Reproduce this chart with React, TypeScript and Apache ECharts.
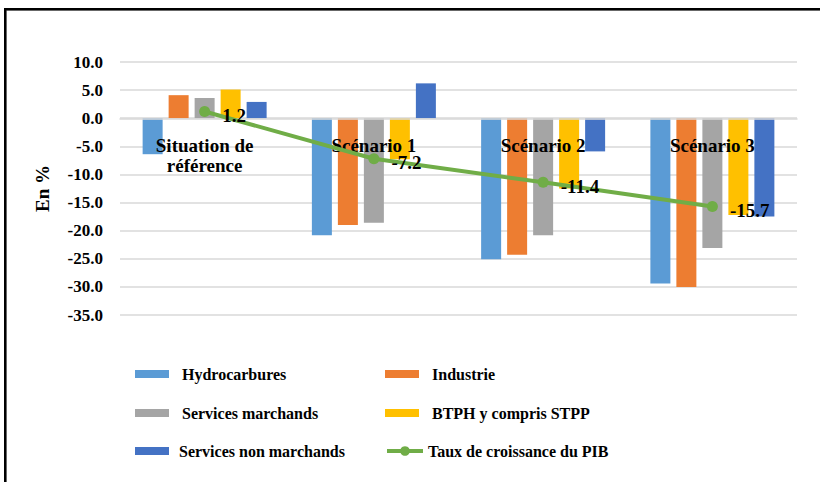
import React, { useEffect, useRef } from "react";
import * as echarts from "echarts";

const categories = ["Situation de\nréférence", "Scénario 1", "Scénario 2", "Scénario 3"];
const hydrocarbures = [-6.4, -20.8, -25.1, -29.4];
const industrie = [4.1, -19.0, -24.3, -30.0];
const servicesMarchands = [3.6, -18.6, -20.8, -23.1];
const btph = [5.1, -7.3, -12.5, -17.2];
const servicesNonMarchands = [2.9, 6.2, -5.9, -17.5];
const tauxPIB = [1.2, -7.2, -11.4, -15.7];

const FONT = "'Times New Roman', 'Liberation Serif', serif";

export default function App() {
  const ref = useRef<HTMLDivElement>(null);
  useEffect(() => {
    if (!ref.current) return;
    const chart = echarts.init(ref.current, null, { renderer: "svg" });
    const barSeries = (name: string, data: number[], color: string) => ({
      name,
      type: "bar",
      data,
      barWidth: 20,
      barGap: "30%",
      itemStyle: { color },
      z: 2,
    });
    const legendText = { fontFamily: FONT, fontWeight: "bold", fontSize: 16, color: "#000", lineHeight: 20 };
    const mkLegend = (name: string, left: number, center: number, pad: number, extra: any = {}) => ({
      data: [name],
      left,
      top: center - 10,
      padding: 0,
      itemWidth: 34,
      itemHeight: 8,
      icon: "rect",
      textStyle: { ...legendText, padding: [0, 0, 0, pad] },
      ...extra,
    });
    chart.setOption({
      animation: false,
      backgroundColor: "#fff",
      grid: { left: 120, right: 23, top: 62, bottom: 167, containLabel: false },
      xAxis: {
        type: "category",
        data: categories,
        z: 10,
        position: "bottom",
        offset: -196,
        axisTick: { show: false },
        axisLine: { onZero: false, lineStyle: { color: "#D9D9D9", width: 1.5 } },
        axisLabel: {
          fontFamily: FONT,
          fontWeight: "bold",
          fontSize: 19,
          color: "#000",
          lineHeight: 20,
          margin: 16,
          interval: 0,
        },
      },
      yAxis: {
        type: "value",
        min: -35,
        max: 10,
        interval: 5,
        name: "En %",
        nameLocation: "middle",
        nameRotate: 90,
        nameGap: 68,
        nameTextStyle: { fontFamily: FONT, fontWeight: "bold", fontSize: 19, color: "#000" },
        axisLine: { show: false },
        axisTick: { show: false },
        splitLine: { lineStyle: { color: "#D9D9D9", width: 1.5 } },
        axisLabel: {
          fontFamily: FONT,
          fontWeight: "bold",
          fontSize: 17,
          color: "#000",
          margin: 17,
          formatter: (v: number) => v.toFixed(1),
        },
      },
      legend: [
        mkLegend("Hydrocarbures", 135, 374, 8),
        mkLegend("Industrie", 385, 374, 8),
        mkLegend("Services marchands", 135, 413, 8),
        mkLegend("BTPH y compris STPP", 385, 413, 8),
        mkLegend("Services non marchands", 135, 451, 5),
        mkLegend("Taux de croissance du PIB", 385, 451, 0, {
          icon: undefined,
          itemWidth: 36,
          itemHeight: 12,
          lineStyle: { width: 4, color: "#70AD47" },
        }),
      ],
      series: [
        barSeries("Hydrocarbures", hydrocarbures, "#5B9BD5"),
        barSeries("Industrie", industrie, "#ED7D31"),
        barSeries("Services marchands", servicesMarchands, "#A5A5A5"),
        barSeries("BTPH y compris STPP", btph, "#FFC000"),
        barSeries("Services non marchands", servicesNonMarchands, "#4472C4"),
        {
          name: "Taux de croissance du PIB",
          type: "line",
          data: tauxPIB,
          z: 20,
          symbol: "circle",
          symbolSize: 11,
          lineStyle: { color: "#70AD47", width: 4 },
          itemStyle: { color: "#70AD47" },
          label: {
            show: true,
            position: "right",
            distance: 12,
            offset: [0, 4],
            fontFamily: FONT,
            fontWeight: "bold",
            fontSize: 19,
            lineHeight: 15,
            color: "#000",
            formatter: (p: any) => Number(p.value).toFixed(1),
          },
        },
      ],
      graphic: [
        { type: "rect", shape: { x: 6, y: 10, width: 814, height: 1 }, style: { fill: "#D0D0D0" }, silent: true },
        { type: "rect", shape: { x: 6, y: 10, width: 1, height: 472 }, style: { fill: "#D0D0D0" }, silent: true },
        { type: "rect", shape: { x: 4, y: 8, width: 816, height: 2.5 }, style: { fill: "#000" }, silent: true },
        { type: "rect", shape: { x: 4, y: 8, width: 2.5, height: 474 }, style: { fill: "#000" }, silent: true },
      ],
    });
    return () => chart.dispose();
  }, []);
  return <div ref={ref} style={{ position: "fixed", left: 0, top: 0, width: 820, height: 482 }} />;
}
